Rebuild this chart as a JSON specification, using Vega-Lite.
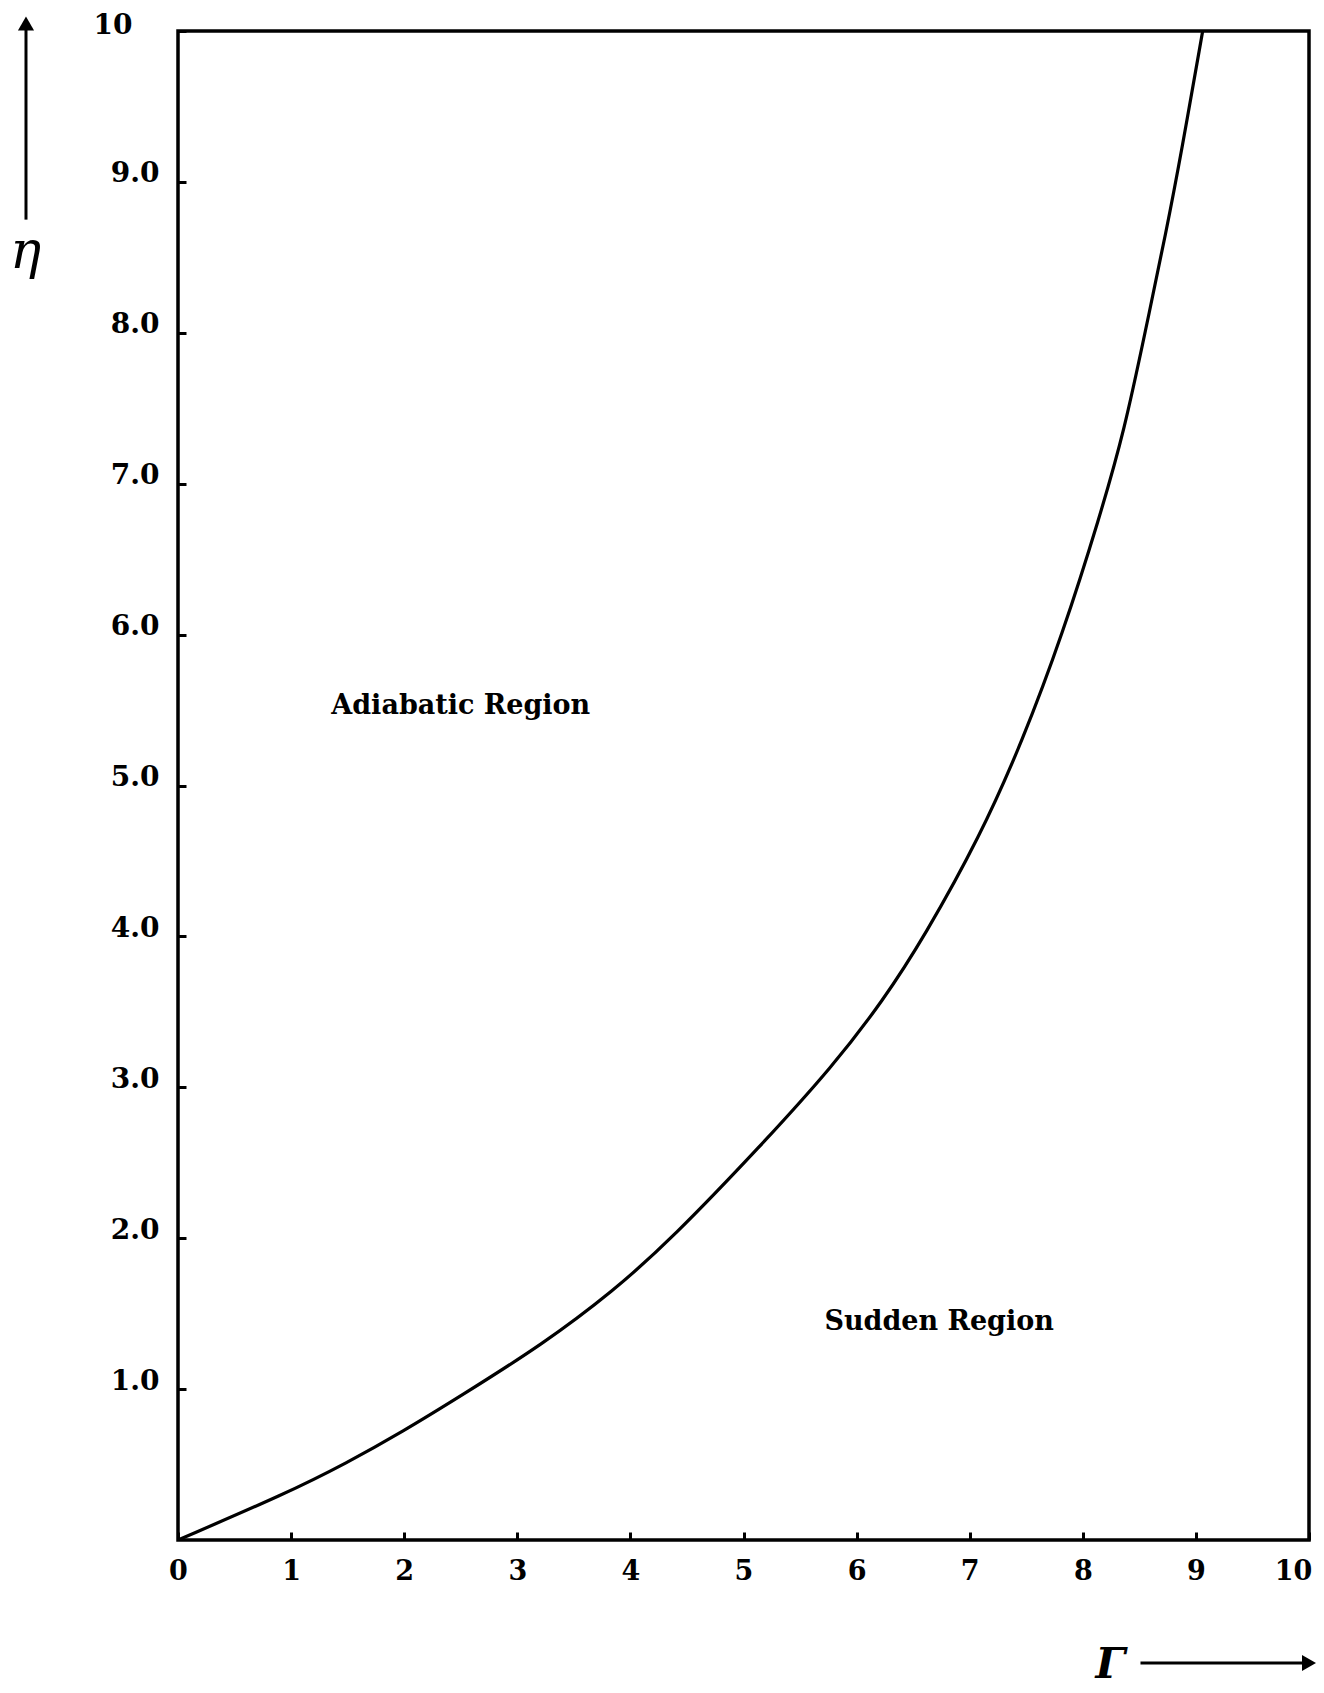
{
  "$schema": "https://vega.github.io/schema/vega-lite/v6.json",
  "autosize": "none",
  "width": 1131,
  "height": 1509,
  "padding": {"left": 178, "top": 31, "right": 15, "bottom": 153},
  "background": "white",
  "config": {
    "view": {"stroke": "black", "strokeWidth": 3.5},
    "font": "DejaVu Serif"
  },
  "datasets": {
    "curve": [
      {"g": 0, "e": 0},
      {"g": 0.96, "e": 0.31},
      {"g": 1.49, "e": 0.51},
      {"g": 1.99, "e": 0.72},
      {"g": 2.49, "e": 0.95},
      {"g": 3.23, "e": 1.3},
      {"g": 3.85, "e": 1.65},
      {"g": 4.37, "e": 2.0},
      {"g": 5.15, "e": 2.61},
      {"g": 5.79, "e": 3.14},
      {"g": 6.24, "e": 3.58},
      {"g": 6.6, "e": 4.0},
      {"g": 7.09, "e": 4.66},
      {"g": 7.47, "e": 5.3},
      {"g": 7.82, "e": 6.0},
      {"g": 8.15, "e": 6.78},
      {"g": 8.37, "e": 7.36},
      {"g": 8.55, "e": 8.0},
      {"g": 8.74, "e": 8.68},
      {"g": 8.87, "e": 9.19},
      {"g": 9.06, "e": 10.0}
    ],
    "labels": [
      {"g": 2.5, "e": 5.53, "label": "Adiabatic Region"},
      {"g": 6.73, "e": 1.445, "label": "Sudden Region"}
    ],
    "arrows": [
      {"name": "x", "g": 8.51, "g2": 10.0, "e": -0.815, "e2": -0.815, "hg": 10.0, "he": -0.815, "shape": "triangle-right"},
      {"name": "y", "g": -1.344, "g2": -1.344, "e": 8.75, "e2": 10.05, "hg": -1.344, "he": 10.05, "shape": "triangle-up"}
    ]
  },
  "layer": [
    {
      "data": {"name": "curve"},
      "mark": {"type": "line", "color": "black", "strokeWidth": 3.2, "interpolate": "basis", "clip": true},
      "encoding": {
        "x": {
          "field": "g", "type": "quantitative",
          "scale": {"domain": [0, 10], "nice": false, "zero": false},
          "axis": {
            "values": [0, 1, 2, 3, 4, 5, 6, 7, 8, 9, 10],
            "domain": false,
            "grid": false,
            "ticks": true,
            "tickSize": -8,
            "tickWidth": 3,
            "tickColor": "black",
            "labelFont": "DejaVu Serif",
            "labelFontWeight": "bold",
            "labelFontSize": 27,
            "labelColor": "black",
            "labelPadding": 26,
            "labelBaseline": "top",
            "labelFlush": false,
            "labelOverlap": false,
            "labelOffset": {"condition": {"test": "datum.value == 10", "value": -16}, "value": 0},
            "labelExpr": "format(datum.value, 'd')",
            "title": "Γ",
            "titleFont": "DejaVu Serif",
            "titleFontStyle": "italic",
            "titleFontWeight": "bold",
            "titleFontSize": 42,
            "titleColor": "black",
            "titleX": 932,
            "titleY": 124,
            "titleBaseline": "middle",
            "titleAlign": "center"
          }
        },
        "y": {
          "field": "e", "type": "quantitative",
          "scale": {"domain": [0, 10], "nice": false, "zero": false},
          "axis": {
            "values": [1, 2, 3, 4, 5, 6, 7, 8, 9, 10],
            "domain": false,
            "grid": false,
            "ticks": true,
            "tickSize": -8,
            "tickWidth": 3,
            "tickColor": "black",
            "labelFont": "DejaVu Serif",
            "labelFontWeight": "bold",
            "labelFontSize": 28,
            "labelColor": "black",
            "labelPadding": {"condition": {"test": "datum.value == 10", "value": 54}, "value": 27},
            "labelOffset": {"condition": {"test": "datum.value == 10", "value": -6}, "value": -8},
            "labelFlush": false,
            "labelOverlap": false,
            "labelExpr": "datum.value == 10 ? '10' : format(datum.value, '.1f')",
            "title": "η",
            "titleFont": "DejaVu Serif",
            "titleFontStyle": "italic",
            "titleFontWeight": "normal",
            "titleFontSize": 52,
            "titleColor": "black",
            "titleAngle": 0,
            "titleX": -153,
            "titleY": 220,
            "titleBaseline": "middle",
            "titleAlign": "center"
          }
        }
      }
    },
    {
      "data": {"name": "labels"},
      "mark": {"type": "text", "font": "DejaVu Serif", "fontWeight": "bold", "fontSize": 27, "color": "black", "align": "center", "baseline": "middle"},
      "encoding": {
        "x": {"field": "g", "type": "quantitative"},
        "y": {"field": "e", "type": "quantitative"},
        "text": {"field": "label"}
      }
    },
    {
      "data": {"name": "arrows"},
      "mark": {"type": "rule", "color": "black", "strokeWidth": 3, "clip": false},
      "encoding": {
        "x": {"field": "g", "type": "quantitative"},
        "x2": {"field": "g2"},
        "y": {"field": "e", "type": "quantitative"},
        "y2": {"field": "e2"}
      }
    },
    {
      "data": {"name": "arrows"},
      "mark": {"type": "point", "filled": true, "color": "black", "opacity": 1, "size": 260, "clip": false},
      "encoding": {
        "x": {"field": "hg", "type": "quantitative"},
        "y": {"field": "he", "type": "quantitative"},
        "shape": {"field": "shape", "type": "nominal", "scale": {"domain": ["triangle-right", "triangle-up"], "range": ["triangle-right", "triangle-up"]}, "legend": null}
      }
    }
  ]
}
